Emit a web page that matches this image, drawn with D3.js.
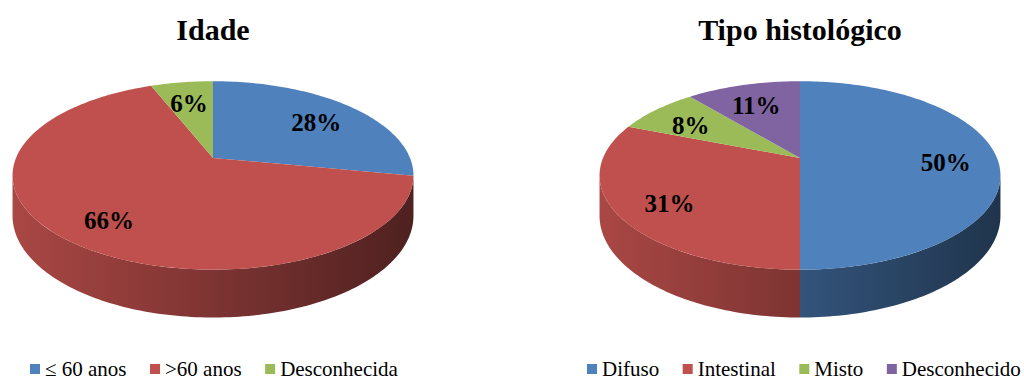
<!DOCTYPE html>
<html>
<head>
<meta charset="utf-8">
<script src="https://cdn.jsdelivr.net/npm/d3@7"></script>
<style>
  html, body { margin: 0; padding: 0; background: #fff; }
  svg { display: block; }
  svg text { font-family: "Liberation Serif", "Times New Roman", "DejaVu Serif", serif; }
</style>
</head>
<body>
<svg id="chart" width="1024" height="381"></svg>
<script>
// Idade
const idadeLabels = ["\u2264 60 anos", ">60 anos", "Desconhecida"];
const idadeValues = [28, 66, 6];

// Tipo histológico
const tipoLabels = ["Difuso", "Intestinal", "Misto", "Desconhecido"];
const tipoValues = [50, 31, 8, 11];

const sliceColors = ["#4F81BD", "#C0504D", "#9BBB59", "#8064A2"];

const svg = d3.select("#chart");
const defs = svg.append("defs");

// perspective-ish projection of the pie disc
function makeProj(cx, cy, rx, ry, p, depth) {
  return (a, r, h) => {
    const u = r * Math.sin(a), v = -r * Math.cos(a);
    const w = 1 / (1 - p * v);
    return [cx + rx * u * w, cy + (ry * v + h * depth) * w];
  };
}

function arcPoints(proj, a0, a1, r, h) {
  const n = Math.max(2, Math.ceil(Math.abs(a1 - a0) / 0.02));
  return d3.range(n + 1).map(i => proj(a0 + (a1 - a0) * i / n, r, h));
}

function drawPie(id, title, labels, values, cx) {
  const cy = 158, rx = 197, ry = 91, p = 0.185, depth = 39;
  const proj = makeProj(cx, cy, rx, ry, p, depth);
  const g = svg.append("g").attr("class", "pie-" + id);
  const line = d3.line();

  const color = d3.scaleOrdinal().domain(labels).range(sliceColors);
  const arcs = d3.pie().sort(null).value(d => d.value)(labels.map((l, i) => ({ label: l, value: values[i] })));

  // side gradients
  labels.forEach((l, i) => {
    const c = color(l);
    const grad = defs.append("linearGradient")
      .attr("id", `side-${id}-${i}`)
      .attr("gradientUnits", "userSpaceOnUse")
      .attr("x1", cx - rx).attr("x2", cx + rx).attr("y1", 0).attr("y2", 0);
    grad.append("stop").attr("offset", 0).attr("stop-color", d3.color(c).darker(0.35));
    grad.append("stop").attr("offset", 0.5).attr("stop-color", d3.color(c).darker(1.2));
    grad.append("stop").attr("offset", 1).attr("stop-color", d3.color(c).darker(2.5));
  });

  // visible side: between the silhouette angles
  const s0 = Math.acos(-p), s1 = 2 * Math.PI - s0;
  arcs.forEach((d, i) => {
    const b0 = Math.max(d.startAngle, s0), b1 = Math.min(d.endAngle, s1);
    if (b1 <= b0) return;
    const pts = arcPoints(proj, b0, b1, 1, 0).concat(arcPoints(proj, b1, b0, 1, 1));
    g.append("path")
      .attr("d", line(pts) + "Z")
      .attr("fill", `url(#side-${id}-${i})`);
  });

  // top faces
  arcs.forEach(d => {
    const pts = [proj(0, 0, 0)].concat(arcPoints(proj, d.startAngle, d.endAngle, 1, 0));
    g.append("path")
      .attr("d", line(pts) + "Z")
      .attr("fill", color(d.data.label));
  });

  // value labels
  arcs.forEach(d => {
    const mid = (d.startAngle + d.endAngle) / 2;
    const [x, y] = proj(mid, 0.74, 0);
    g.append("text")
      .attr("x", x).attr("y", y + 4)
      .attr("text-anchor", "middle")
      .attr("dominant-baseline", "central")
      .style("font-weight", "bold")
      .style("font-size", "25px")
      .text(d.data.value + "%");
  });

  // title
  svg.append("text")
    .attr("x", cx).attr("y", 40)
    .attr("text-anchor", "middle")
    .style("font-weight", "bold")
    .style("font-size", "30px")
    .text(title);
}

function drawLegend(labels, x0) {
  const lg = svg.append("g").attr("class", "legend");
  let x = x0;
  labels.forEach((l, i) => {
    lg.append("rect")
      .attr("x", x).attr("y", 364)
      .attr("width", 10).attr("height", 10)
      .attr("fill", sliceColors[i]);
    const t = lg.append("text")
      .attr("x", x + 15).attr("y", 376)
      .style("font-size", "21px")
      .text(l);
    x += 15 + t.node().getComputedTextLength() + 23.5;
  });
}

drawPie("idade", "Idade", idadeLabels, idadeValues, 213);
drawPie("tipo", "Tipo histol\u00f3gico", tipoLabels, tipoValues, 800);
drawLegend(idadeLabels, 30);
drawLegend(tipoLabels, 587);
</script>
</body>
</html>
